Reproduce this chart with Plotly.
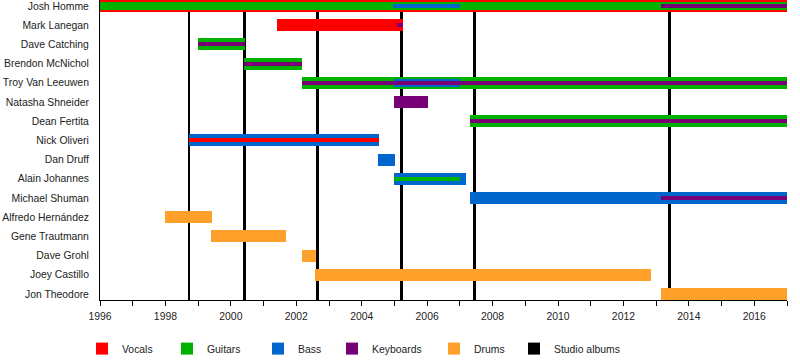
import plotly.graph_objects as go

# ---------------- data ----------------
members = ["Josh Homme", "Mark Lanegan", "Dave Catching", "Brendon McNichol",
           "Troy Van Leeuwen", "Natasha Shneider", "Dean Fertita", "Nick Oliveri",
           "Dan Druff", "Alain Johannes", "Michael Shuman", "Alfredo Hernández",
           "Gene Trautmann", "Dave Grohl", "Joey Castillo", "Jon Theodore"]

vocals = [("Josh Homme", 1996.0, 2017.0), ("Mark Lanegan", 2001.41, 2005.27),
          ("Nick Oliveri", 1998.72, 2004.53)]
guitars = [("Josh Homme", 1996.0, 2017.0), ("Dave Catching", 1999.0, 2000.43),
           ("Brendon McNichol", 2000.40, 2002.18), ("Troy Van Leeuwen", 2002.18, 2017.0),
           ("Dean Fertita", 2007.31, 2017.0), ("Alain Johannes", 2004.99, 2007.0)]
bass = [("Josh Homme", 2004.96, 2007.0), ("Troy Van Leeuwen", 2004.99, 2007.0),
        ("Nick Oliveri", 1998.72, 2004.53), ("Dan Druff", 2004.50, 2005.02),
        ("Alain Johannes", 2004.99, 2007.19), ("Michael Shuman", 2007.31, 2017.0)]
keyboards = [("Josh Homme", 2013.16, 2017.0), ("Mark Lanegan", 2005.08, 2005.27),
             ("Dave Catching", 1999.0, 2000.43), ("Brendon McNichol", 2000.40, 2002.18),
             ("Troy Van Leeuwen", 2002.18, 2017.0), ("Natasha Shneider", 2004.99, 2006.03),
             ("Dean Fertita", 2007.31, 2017.0), ("Michael Shuman", 2013.16, 2017.0)]
drums = [("Alfredo Hernández", 1997.99, 1999.42), ("Gene Trautmann", 1999.40, 2001.69),
         ("Dave Grohl", 2002.18, 2002.61), ("Joey Castillo", 2002.58, 2012.85),
         ("Jon Theodore", 2013.16, 2017.0)]
studio_albums = [1998.72, 2000.43, 2002.65, 2005.22, 2007.44, 2013.42]

year_ticks = list(range(1996, 2018))

# ---------------- styling ----------------
roles = [("Vocals", vocals, "#FF0000"), ("Guitars", guitars, "#00B200"),
         ("Bass", bass, "#0066CC"), ("Keyboards", keyboards, "#770077"),
         ("Drums", drums, "#FFA02A")]
primary_role = {"Josh Homme": "Vocals", "Mark Lanegan": "Vocals", "Dave Catching": "Guitars",
                "Brendon McNichol": "Guitars", "Troy Van Leeuwen": "Guitars",
                "Natasha Shneider": "Keyboards", "Dean Fertita": "Guitars",
                "Nick Oliveri": "Bass", "Dan Druff": "Bass", "Alain Johannes": "Bass",
                "Michael Shuman": "Bass"}
middle_layer = {("Josh Homme", "Guitars"), ("Troy Van Leeuwen", "Bass")}
row_px = 19.23
thickness = [12 / row_px, 8 / row_px, 4 / row_px]
pad = 6 / row_px
y_lo, y_hi = -pad, len(members) - 1 + pad

def level(member, role):
    if primary_role.get(member, "Drums") == role:
        return 0
    if (member, role) in middle_layer:
        return 1
    return 2

FONT = "Liberation Sans, Arial, sans-serif"
fig = go.Figure()

# studio album lines as thin vertical bars
fig.add_trace(go.Bar(
    x=studio_albums, y=[y_hi - y_lo] * len(studio_albums), base=[y_lo] * len(studio_albums),
    orientation="v", width=0.09, marker=dict(color="black", line=dict(width=0)),
    name="Studio albums", legend="legend6", showlegend=True, hoverinfo="x"))

legend_ids = ["legend", "legend2", "legend3", "legend4", "legend5"]
shown = set()
for lvl in range(3):
    for (rname, periods, color), lid in zip(roles, legend_ids):
        sel = [p for p in periods if level(p[0], rname) == lvl]
        if not sel:
            continue
        fig.add_trace(go.Bar(
            y=[members.index(p[0]) for p in sel],
            x=[p[2] - p[1] for p in sel],
            base=[p[1] for p in sel],
            orientation="h", width=thickness[lvl],
            marker=dict(color=color, line=dict(width=0)),
            name=rname, legendgroup=rname, legend=lid,
            showlegend=rname not in shown, hoverinfo="name+x"))
        shown.add(rname)

# legends placed individually
plot_left, plot_w = 100, 687
sym_left = [98, 183, 274, 348, 450, 530]
leg = {}
for i, sx in enumerate(sym_left):
    key = "legend" if i == 0 else f"legend{i+1}"
    leg[key] = dict(x=(sx + 4 - 20 - plot_left) / plot_w, xanchor="left",
                    y=-0.162, yanchor="middle", orientation="h",
                    bgcolor="rgba(0,0,0,0)", borderwidth=0,
                    font=dict(family=FONT, size=10.4, color="#222"))

fig.update_layout(
    width=800, height=360,
    margin=dict(l=100, r=13, t=0, b=60, autoexpand=False),
    paper_bgcolor="white", plot_bgcolor="white",
    barmode="overlay", bargap=0,
    font=dict(family=FONT, size=10.4, color="#222"),
    xaxis=dict(range=[1996, 2017], tickvals=year_ticks,
               ticktext=[str(y) if y % 2 == 0 else "" for y in year_ticks],
               ticks="outside", ticklen=5, tickcolor="black", showgrid=False,
               zeroline=False, showline=True, linecolor="black", linewidth=1,
               ticklabelstandoff=2, automargin=False),
    yaxis=dict(range=[y_hi, y_lo], tickvals=list(range(len(members))), ticktext=members,
               ticks="", showgrid=False, zeroline=False, showline=True,
               linecolor="black", linewidth=1, ticklabelstandoff=8, automargin=False),
    **leg,
)

fig.write_html("out.html", config={"displayModeBar": False},
               post_script="document.body.style.margin='0';document.body.style.overflow='hidden';")
